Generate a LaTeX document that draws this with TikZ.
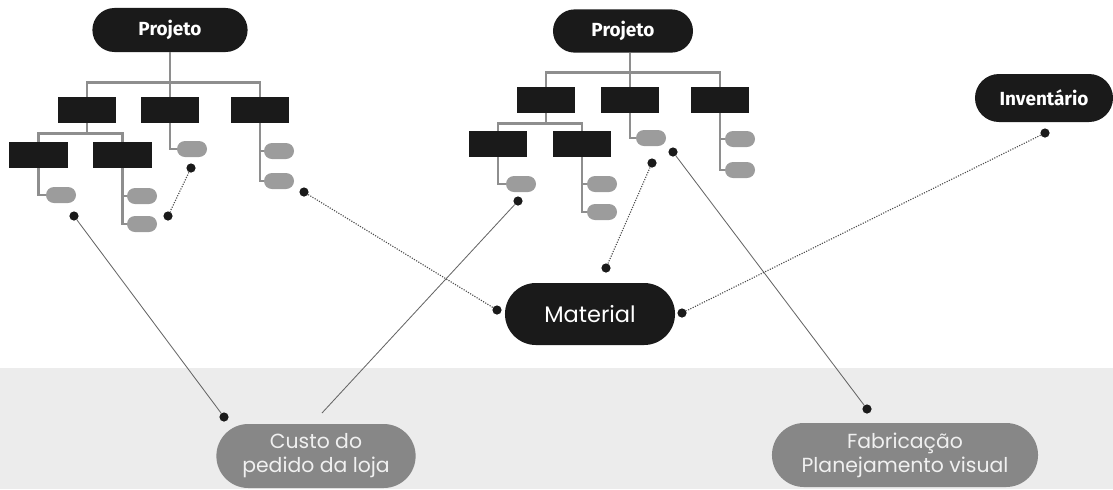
\documentclass[tikz,border=0pt]{standalone}
\usepackage{fontspec}
\usepackage{tikz}
\usetikzlibrary{shapes.misc}
\usetikzlibrary{positioning}
\newfontfamily\headfont{Fira Sans}
\newfontfamily\roundfont{Poppins}
\definecolor{boxblack}{HTML}{1A1A1A}
\definecolor{leafgray}{HTML}{9C9C9C}
\definecolor{treegray}{HTML}{8E8E8E}
\definecolor{pillgray}{HTML}{878787}
\definecolor{bandgray}{HTML}{ECECEC}

\begin{document}
\begin{tikzpicture}[x=0.025cm,y=-0.025cm,
		proj/.style={rounded rectangle,fill=boxblack,text=white,font=\headfont\bfseries\fontsize{13.5}{15}\selectfont,inner sep=0pt,minimum height=1.1cm},
		blk/.style={rectangle,fill=boxblack,inner sep=0pt,minimum width=1.45cm,minimum height=0.65cm},
		leaf/.style={rounded rectangle,fill=leafgray,inner sep=0pt,minimum width=0.75cm,minimum height=0.4cm},
		dotnode/.style={circle,fill=boxblack,inner sep=0pt,minimum size=0.23cm},
		bandpill/.style={rounded rectangle,fill=pillgray,text=white!94!black,align=center,font=\roundfont\fontsize{14.5}{17}\selectfont,inner sep=0pt,minimum height=1.6cm},
		tree/.style={treegray,line width=2pt},
		link/.style={black!60,line width=0.6pt},
		dlink/.style={black!70,line width=0.8pt,densely dotted}]
		\useasboundingbox (0,0) rectangle (1113,489);
		\fill [bandgray] (0,368) rectangle (1113,489);
		% left project tree
		\node [proj,minimum width=3.88cm] (p1) at (170,30) {Projeto};
		\node [blk] (a1) at (87,110) {};
		\node [blk] (b1) at (170,110) {};
		\node [blk] (c1) at (260,110) {};
		\node [blk] (d1) at (38.5,155) {};
		\node [blk] (e1) at (122.5,155) {};
		\node [leaf] (l1) at (61,195) {};
		\node [leaf] (l2) at (142,196) {};
		\node [leaf] (l3) at (142,224) {};
		\node [leaf] (l4) at (192,149) {};
		\node [leaf] (l5) at (279,151) {};
		\node [leaf] (l6) at (279,181) {};
		\draw [tree] (p1.south) -- (b1.north);
		\draw [tree] (b1.north) -- ++(0,-14) -| (a1.north);
		\draw [tree] (b1.north) -- ++(0,-14) -| (c1.north);
		\draw [tree] (a1.south) -- ++(0,10) -| (d1.north);
		\draw [tree] (a1.south) -- ++(0,10) -| (e1.north);
		\draw [tree] (d1.south) |- (l1.west);
		\draw [tree] (e1.south) |- (l2.west);
		\draw [tree] (e1.south) |- (l3.west);
		\draw [tree] (b1.south) |- (l4.west);
		\draw [tree] (c1.south) |- (l5.west);
		\draw [tree] (c1.south) |- (l6.west);
		% right project tree
		\node [proj,minimum width=3.5cm,minimum height=1.08cm] (p2) at (623,31) {Projeto};
		\node [blk] (a2) at (546,100) {};
		\node [blk] (b2) at (630,100) {};
		\node [blk] (c2) at (720,100) {};
		\node [blk] (d2) at (498,144) {};
		\node [blk] (e2) at (582,144) {};
		\node [leaf] (m1) at (521,184) {};
		\node [leaf] (m2) at (602,184) {};
		\node [leaf] (m3) at (602,212) {};
		\node [leaf] (m4) at (651,138) {};
		\node [leaf] (m5) at (740,139) {};
		\node [leaf] (m6) at (740,170) {};
		\draw [tree] (p2.south -| b2.north) -- (b2.north);
		\draw [tree] (b2.north) -- ++(0,-14) -| (a2.north);
		\draw [tree] (b2.north) -- ++(0,-14) -| (c2.north);
		\draw [tree] (a2.south) -- ++(0,10) -| (d2.north);
		\draw [tree] (a2.south) -- ++(0,10) -| (e2.north);
		\draw [tree] (d2.south) |- (m1.west);
		\draw [tree] (e2.south) |- (m2.west);
		\draw [tree] (e2.south) |- (m3.west);
		\draw [tree] (b2.south) |- (m4.west);
		\draw [tree] (c2.south) |- (m5.west);
		\draw [tree] (c2.south) |- (m6.west);
		% other pills
		\node [proj,minimum width=3.45cm,minimum height=1.2cm] (inv) at (1044,98) {Inventário};
		\node [proj,minimum width=4.25cm,minimum height=1.55cm,font=\roundfont\fontsize{16}{18}\selectfont] (mat) at (590,314) {Material};
		\node [bandpill,minimum width=4.98cm] (custo) at (316,456) {Custo do\\pedido da loja};
		\node [bandpill,minimum width=6.65cm] (fab) at (905,455) {Fabricação\\Planejamento visual};
		% end points
		\node [dotnode] (q1) at (74,216) {};
		\node [dotnode] (q2) at (191,168) {};
		\node [dotnode] (q3) at (168,216) {};
		\node [dotnode] (q4) at (304,192) {};
		\node [dotnode] (q5) at (518,201) {};
		\node [dotnode] (q6) at (652,163) {};
		\node [dotnode] (q7) at (673,152) {};
		\node [dotnode] (q8) at (1045,133) {};
		\node [dotnode] (q9) at (606,268) {};
		\node [dotnode] (q10) at (497,310) {};
		\node [dotnode] (q11) at (682,313) {};
		\node [dotnode] (q12) at (224,417) {};
		\node [dotnode] (q13) at (867,409) {};
		\coordinate (cend) at (322,413);
		\draw [link] (q1) -- (q12);
		\draw [link] (q5) -- (cend);
		\draw [link] (q7) -- (q13);
		\draw [dlink] (q2) -- (q3);
		\draw [dlink] (q4) -- (q10);
		\draw [dlink] (q6) -- (q9);
		\draw [dlink] (q8) -- (q11);
\end{tikzpicture}
\end{document}
